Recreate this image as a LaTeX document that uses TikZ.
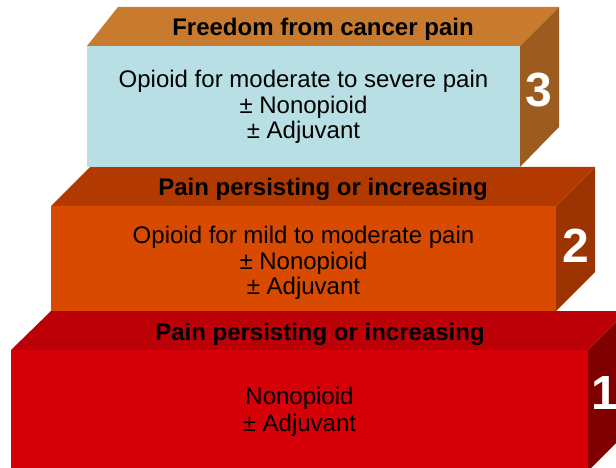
\documentclass[tikz,border=0pt]{standalone}
\usepackage{fontspec}
\setmainfont{Liberation Sans}
\definecolor{cthreetop}{RGB}{200,123,46}
\definecolor{cthreefront}{RGB}{184,224,228}
\definecolor{cthreeside}{RGB}{156,92,32}
\definecolor{ctwotop}{RGB}{178,58,0}
\definecolor{ctwofront}{RGB}{216,74,0}
\definecolor{ctwoside}{RGB}{155,52,0}
\definecolor{conetop}{RGB}{188,0,8}
\definecolor{conefront}{RGB}{214,0,8}
\definecolor{coneside}{RGB}{128,0,0}
\tikzset{
  toplabel/.style={anchor=base, inner sep=0pt, font=\fontsize{24}{26}\selectfont\bfseries, text=black},
  bodytext/.style={align=center, inner sep=0pt, font=\fontsize{24}{25.5}\selectfont, text=black},
  numlabel/.style={inner sep=0pt, font=\fontsize{48}{50}\selectfont\bfseries, text=white},
}
\begin{document}
\begin{tikzpicture}[x=1pt,y=-1pt]
\useasboundingbox (0,0) rectangle (616,468);
\clip (0,0) rectangle (616,468);
% step 1
\fill[conetop] (11,350) -- (51,311) -- (627,311) -- (588,350) -- cycle;
\fill[conefront] (11,350) rectangle (588,471);
\fill[coneside] (588,350) -- (627,311) -- (627,432) -- (588,471) -- cycle;
% step 2
\fill[ctwotop] (51,206) -- (90,167) -- (595,167) -- (556,206) -- cycle;
\fill[ctwofront] (51,206) rectangle (556,311);
\fill[ctwoside] (556,206) -- (595,167) -- (595,272) -- (556,311) -- cycle;
% step 3
\fill[cthreetop] (87,46) -- (118,7) -- (559,7) -- (520,46) -- cycle;
\fill[cthreefront] (87,46) rectangle (520,167);
\fill[cthreeside] (520,46) -- (559,7) -- (559,127) -- (520,167) -- cycle;
% labels
\node[toplabel] (t3) at (323,36) {Freedom from cancer pain};
\node[bodytext] (b3) at (303.5,107) {Opioid for moderate to severe pain\\± Nonopioid\\± Adjuvant};
\node[numlabel] (n3) at (539,90) {3};
\node[toplabel] (t2) at (323,196) {Pain persisting or increasing};
\node[bodytext] (b2) at (303.5,263) {Opioid for mild to moderate pain\\± Nonopioid\\± Adjuvant};
\node[numlabel] (n2) at (575.5,246) {2};
\node[toplabel] (t1) at (320,340) {Pain persisting or increasing};
\node[bodytext, font=\fontsize{24}{27}\selectfont] (b1) at (299.5,412) {Nonopioid\\± Adjuvant};
\node[numlabel] (n1) at (605,393) {1};
\end{tikzpicture}
\end{document}
